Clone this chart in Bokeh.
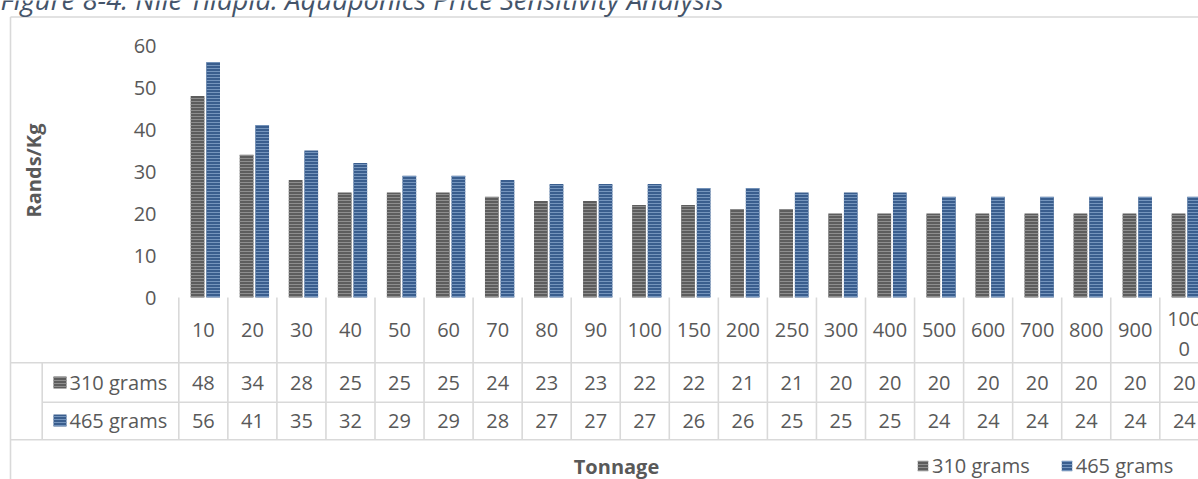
from math import pi
from bokeh.plotting import figure
from bokeh.models import Range1d, ColumnDataSource, Legend, LegendItem
from bokeh.transform import dodge
from bokeh.core.properties import value
from bokeh.embed import file_html
from bokeh.resources import INLINE

# ---------------- data ----------------
title_text = "Figure 8-4: Nile Tilapia: Aquaponics Price Sensitivity Analysis"
tonnage = [10, 20, 30, 40, 50, 60, 70, 80, 90, 100, 150, 200, 250, 300, 400,
           500, 600, 700, 800, 900, 1000]
grams_310 = [48, 34, 28, 25, 25, 25, 24, 23, 23, 22, 22, 21, 21, 20, 20,
             20, 20, 20, 20, 20, 20]
grams_465 = [56, 41, 35, 32, 29, 29, 28, 27, 27, 27, 26, 26, 25, 25, 25,
             24, 24, 24, 24, 24, 24]
series_names = ["310 grams", "465 grams"]
y_ticks = [0, 10, 20, 30, 40, 50, 60]
y_title = "Rands/Kg"
x_title = "Tonnage"

# ---------------- layout / style ----------------
W, H = 1198, 479
X0 = 178.3      # canvas x of first category boundary
CW = 49.05      # category width in px
Y0 = 297.0      # canvas y of value 0
PPU = 4.2       # px per value unit

TXT = "#595959"
GRID = "#D9D9D9"
GRAY, GRAY_H = "#5d5d5d", "#8e8e8e"
BLUE, BLUE_H = "#3a5e8e", "#7595bd"
FONT = value("Open Sans")
FS = value("20px")

p = figure(width=W, height=H,
           x_range=Range1d(-X0 / CW, (W - X0) / CW),
           y_range=Range1d(-(H - Y0) / PPU, Y0 / PPU),
           x_axis_type=None, y_axis_type=None,
           toolbar_location=None, output_backend="svg",
           min_border=0, outline_line_color=None)
p.extra_x_ranges = {"px": Range1d(0, W)}
p.extra_y_ranges = {"py": Range1d(H, 0)}
p.background_fill_color = "white"
p.border_fill_color = "white"

n = len(tonnage)
centers = [i + 0.5 for i in range(n)]


def wrap(s, k=3):
    return s if len(s) <= k else s[:k] + "\n" + s[k:]


cat_labels = [wrap(str(t)) for t in tonnage]
src = ColumnDataSource(dict(
    x=centers, g310=grams_310, g465=grams_465,
    t310=[str(v) for v in grams_310], t465=[str(v) for v in grams_465],
))

# ---------------- chart frame ----------------
p.segment(x0=[10, 10], y0=[16.5, 16.5], x1=[10, W], y1=[H, 16.5],
          line_color=GRID, line_width=1.6,
          x_range_name="px", y_range_name="py")

# ---------------- bars ----------------
r1 = p.vbar(x=dodge("x", -0.118), top="g310", bottom=0, width=0.28, source=src,
            fill_color=GRAY, line_color=None,
            hatch_pattern="horizontal_line", hatch_color=GRAY_H,
            hatch_scale=3, hatch_weight=1)
r2 = p.vbar(x=dodge("x", 0.2), top="g465", bottom=0, width=0.28, source=src,
            fill_color=BLUE, line_color=None,
            hatch_pattern="horizontal_line", hatch_color=BLUE_H,
            hatch_scale=3, hatch_weight=1)

# ---------------- y axis labels ----------------
p.text(x=[156] * len(y_ticks), y=y_ticks, text=[str(t) for t in y_ticks],
       text_align="right", text_baseline="middle",
       text_font=FONT, text_font_size=FS, text_color=TXT, x_range_name="px")
p.text(x=[33], y=[170], text=[y_title], angle=pi / 2,
       text_align="center", text_baseline="middle", text_font_style="bold",
       text_font=FONT, text_font_size=FS, text_color=TXT,
       x_range_name="px", y_range_name="py")

# ---------------- data table ----------------
bounds = list(range(n + 1))
p.segment(x0=bounds, y0=[297] * len(bounds), x1=bounds, y1=[439.3] * len(bounds),
          line_color=GRID, line_width=1.6, y_range_name="py")
p.segment(x0=[10, 41.7, 10, 41.7], y0=[362.3, 401.7, 439.3, 362.3],
          x1=[W, W, W, 41.7], y1=[362.3, 401.7, 439.3, 439.3],
          line_color=GRID, line_width=1.6,
          x_range_name="px", y_range_name="py")

single = [i for i, s in enumerate(cat_labels) if "\n" not in s]
multi = [i for i, s in enumerate(cat_labels) if "\n" in s]
p.text(x=[centers[i] for i in single], y=[329.5] * len(single),
       text=[cat_labels[i] for i in single],
       text_align="center", text_baseline="middle",
       text_font=FONT, text_font_size=FS, text_color=TXT, y_range_name="py")
if multi:
    p.text(x=[centers[i] for i in multi], y=[333] * len(multi),
           text=[cat_labels[i] for i in multi], text_line_height=1.1,
           text_align="center", text_baseline="middle",
           text_font=FONT, text_font_size=FS, text_color=TXT, y_range_name="py")

row_y = [382, 420]
p.text(x="x", y=value(row_y[0]), text="t310", source=src,
       text_align="center", text_baseline="middle",
       text_font=FONT, text_font_size=FS, text_color=TXT, y_range_name="py")
p.text(x="x", y=value(row_y[1]), text="t465", source=src,
       text_align="center", text_baseline="middle",
       text_font=FONT, text_font_size=FS, text_color=TXT, y_range_name="py")

# row header keys
p.rect(x=[59.5], y=[row_y[0]], width=13, height=12,
       width_units="screen", height_units="screen",
       fill_color=GRAY, line_color=None, hatch_pattern="horizontal_line",
       hatch_color=GRAY_H, hatch_scale=3, hatch_weight=1,
       x_range_name="px", y_range_name="py")
p.rect(x=[59.5], y=[row_y[1]], width=13, height=12,
       width_units="screen", height_units="screen",
       fill_color=BLUE, line_color=None, hatch_pattern="horizontal_line",
       hatch_color=BLUE_H, hatch_scale=3, hatch_weight=1,
       x_range_name="px", y_range_name="py")
p.text(x=[69, 69], y=row_y, text=series_names,
       text_align="left", text_baseline="middle",
       text_font=FONT, text_font_size=FS, text_color=TXT,
       x_range_name="px", y_range_name="py")

# ---------------- x title ----------------
p.text(x=[616], y=[466], text=[x_title], text_align="center",
       text_baseline="middle", text_font_style="bold",
       text_font=FONT, text_font_size=FS, text_color=TXT,
       x_range_name="px", y_range_name="py")

# ---------------- figure caption (cut at top, as in the source) ----------------
p.text(x=[0], y=[-1], text=[title_text], text_align="left",
       text_baseline="alphabetic", text_font_style="italic",
       text_font=FONT, text_font_size=value("27.5px"), text_color="#44546A",
       x_range_name="px", y_range_name="py")

# ---------------- legend ----------------
legend = Legend(items=[LegendItem(label=series_names[0], renderers=[r1]),
                       LegendItem(label=series_names[1], renderers=[r2])],
                orientation="horizontal", location=(916, 0),
                glyph_width=13, glyph_height=13, label_standoff=3, spacing=30,
                padding=0, margin=0, border_line_color=None,
                background_fill_alpha=0,
                label_text_font="Open Sans", label_text_font_size="20px",
                label_text_color=TXT)
p.add_layout(legend)

open("out.html", "w").write(file_html(p, INLINE))
